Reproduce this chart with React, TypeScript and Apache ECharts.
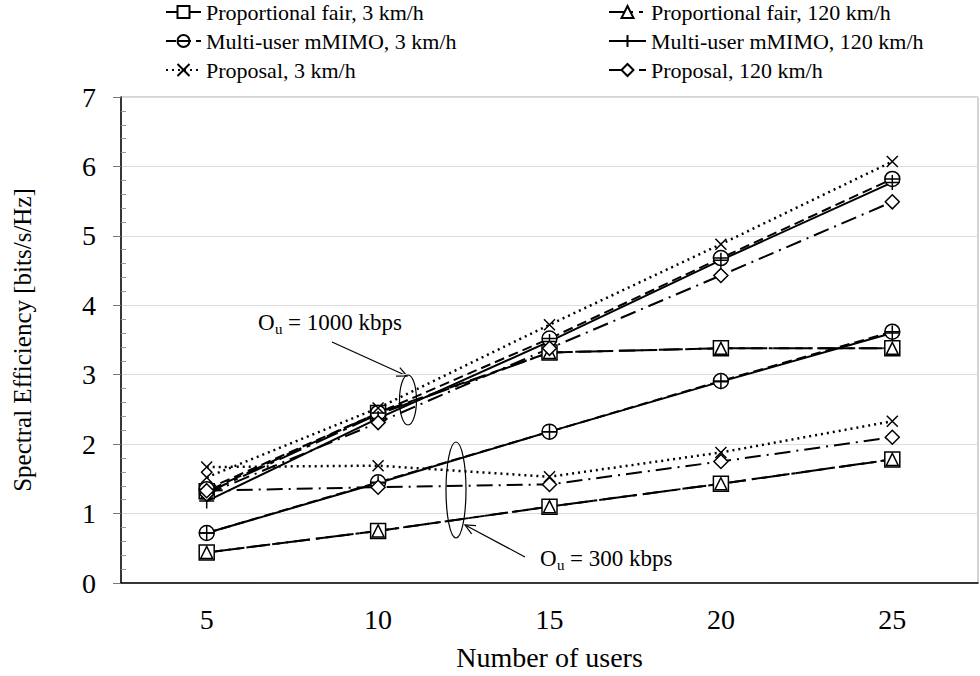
import React, { useEffect, useRef } from "react";
import * as echarts from "echarts";

// ---- data ----
const users = ["5", "10", "15", "20", "25"];

// O_u = 1000 kbps group
const pf3High = [1.32, 2.45, 3.32, 3.38, 3.38];
const pf120High = [1.3, 2.43, 3.32, 3.38, 3.38];
const mu3High = [1.35, 2.45, 3.52, 4.68, 5.82];
const mu120High = [1.18, 2.37, 3.48, 4.65, 5.77];
const prop3High = [1.52, 2.52, 3.72, 4.88, 6.07];
const prop120High = [1.28, 2.31, 3.38, 4.43, 5.49];

// O_u = 300 kbps group
const pf3Low = [0.44, 0.75, 1.1, 1.43, 1.78];
const pf120Low = [0.44, 0.75, 1.1, 1.43, 1.78];
const mu3Low = [0.72, 1.45, 2.18, 2.91, 3.62];
const mu120Low = [0.72, 1.44, 2.18, 2.9, 3.6];
const prop3Low = [1.67, 1.69, 1.53, 1.88, 2.33];
const prop120Low = [1.33, 1.38, 1.42, 1.75, 2.1];

const names = {
  pf3: "Proportional fair, 3 km/h",
  pf120: "Proportional fair, 120 km/h",
  mu3: "Multi-user mMIMO, 3 km/h",
  mu120: "Multi-user mMIMO, 120 km/h",
  prop3: "Proposal, 3 km/h",
  prop120: "Proposal, 120 km/h",
};

const FONT = "Liberation Serif";

const circleMinus = "path://M0,10A10,10,0,1,1,20,10A10,10,0,1,1,0,10ZM0,10L20,10";
const cross = "path://M0,0L20,20M20,0L0,20";
const plus = "path://M10,0L10,20M0,10L20,10";

const styles: Record<string, any> = {
  pf3: { symbol: "rect", size: 15, dash: [16, 6], width: 2 },
  pf120: { symbol: "triangle", size: 12, dash: [24, 6, 4, 6], width: 2 },
  mu3: { symbol: circleMinus, size: 15, dash: [10, 5], width: 2 },
  mu120: { symbol: plus, size: 15, dash: "solid", width: 2 },
  prop3: { symbol: cross, size: 11, dash: [2, 4], width: 2.5 },
  prop120: { symbol: "diamond", size: 14, dash: [16, 6, 2, 6], width: 2 },
};

function mk(key: string, data: number[]) {
  const s = styles[key];
  return {
    name: names[key as keyof typeof names],
    type: "line",
    data,
    symbol: s.symbol,
    symbolSize: s.size,
    showAllSymbol: true,
    itemStyle: { color: "#fff", borderColor: "#000", borderWidth: 1.5 },
    lineStyle: { color: "#000", width: s.width, type: s.dash },
    emphasis: { disabled: true },
  };
}

function arrow(x1: number, y1: number, x2: number, y2: number) {
  const dx = x2 - x1;
  const dy = y2 - y1;
  const len = Math.sqrt(dx * dx + dy * dy);
  const ux = dx / len;
  const uy = dy / len;
  const head = 11;
  const ang = (25 * Math.PI) / 180;
  const rot = (a: number) => [
    x2 - head * (ux * Math.cos(a) - uy * Math.sin(a)),
    y2 - head * (ux * Math.sin(a) + uy * Math.cos(a)),
  ];
  return [
    { type: "line", shape: { x1, y1, x2, y2 }, style: { stroke: "#000", lineWidth: 1.2 } },
    {
      type: "polyline",
      shape: { points: [rot(ang), [x2, y2], rot(-ang)] },
      style: { stroke: "#000", fill: "none", lineWidth: 1.2 },
    },
  ];
}

function label(x: number, y: number, rest: string) {
  return [
    { type: "text", x, y, style: { text: "O", font: `23px "${FONT}"`, fill: "#000", textVerticalAlign: "middle" } },
    { type: "text", x: x + 17, y: y + 7, style: { text: "u", font: `15px "${FONT}"`, fill: "#000", textVerticalAlign: "middle" } },
    { type: "text", x: x + 30, y, style: { text: rest, font: `23px "${FONT}"`, fill: "#000", textVerticalAlign: "middle" } },
  ];
}

export default function App() {
  const ref = useRef<HTMLDivElement>(null);
  useEffect(() => {
    if (!ref.current) return;
    const chart = echarts.init(ref.current, undefined, { renderer: "svg" });
    const legendCommon = {
      orient: "vertical",
      top: -4,
      itemHeight: 15,
      itemGap: 7,
      selectedMode: false,
      textStyle: { fontFamily: FONT, fontSize: 22, color: "#000", lineHeight: 22 },
    };
    chart.setOption({
      animation: false,
      backgroundColor: "#fff",
      grid: {
        left: 121,
        right: 2,
        top: 97,
        bottom: 91,
        show: true,
        borderColor: "#aaa",
        borderWidth: 1,
      },
      legend: [
        { ...legendCommon, left: 160, itemWidth: 35, data: [names.pf3, names.mu3, names.prop3] },
        { ...legendCommon, left: 603, itemWidth: 37, data: [names.pf120, names.mu120, names.prop120] },
      ],
      xAxis: {
        type: "category",
        data: users,
        boundaryGap: true,
        name: "Number of users",
        nameLocation: "middle",
        nameGap: 60,
        nameTextStyle: { fontFamily: FONT, fontSize: 28, color: "#000" },
        axisLine: { lineStyle: { color: "#000", width: 1.5 } },
        axisTick: { alignWithLabel: true, length: 8, lineStyle: { color: "#999" } },
        axisLabel: { fontFamily: FONT, fontSize: 28, color: "#000", margin: 22 },
        splitLine: { show: false },
      },
      yAxis: [
        {
          type: "value",
          position: "left",
          min: 0,
          max: 7,
          interval: 1,
          name: "Spectral Efficiency [bits/s/Hz]",
          nameLocation: "middle",
          nameGap: 86,
          nameTextStyle: { fontFamily: FONT, fontSize: 25, color: "#000" },
          axisLine: { show: true, lineStyle: { color: "#000", width: 1.5 } },
          axisTick: { show: true, length: 8, lineStyle: { color: "#777" } },
          axisLabel: { fontFamily: FONT, fontSize: 28, color: "#000", margin: 25 },
          splitLine: { show: true, lineStyle: { color: "#ddd", width: 1 } },
        },
        {
          type: "value",
          position: "left",
          min: 0,
          max: 7,
          interval: 1,
          axisLine: { show: false },
          axisLabel: { show: false },
          splitLine: { show: false },
          axisTick: { show: false, inside: true },
          minorTick: { show: true, splitNumber: 5, length: 5, lineStyle: { color: "#999" } },
        },
      ],
      series: [
        mk("pf3", pf3High),
        mk("pf120", pf120High),
        mk("mu3", mu3High),
        mk("mu120", mu120High),
        mk("prop3", prop3High),
        mk("prop120", prop120High),
        mk("pf3", pf3Low),
        mk("pf120", pf120Low),
        mk("mu3", mu3Low),
        mk("mu120", mu120Low),
        mk("prop3", prop3Low),
        mk("prop120", prop120Low),
      ],
      graphic: [
        { type: "ellipse", shape: { cx: 408, cy: 400, rx: 8.5, ry: 25 }, style: { fill: "none", stroke: "#000", lineWidth: 1.2 }, z: 100 },
        { type: "ellipse", shape: { cx: 456, cy: 490, rx: 10, ry: 48 }, style: { fill: "none", stroke: "#000", lineWidth: 1.2 }, z: 100 },
        ...arrow(332, 342, 407, 376),
        ...arrow(525, 557, 465, 525),
        ...label(258, 322, "= 1000 kbps"),
        ...label(540, 558, "= 300 kbps"),
      ],
    });
    return () => chart.dispose();
  }, []);
  return <div ref={ref} style={{ position: "fixed", left: 0, top: 0, width: 980, height: 676 }} />;
}
